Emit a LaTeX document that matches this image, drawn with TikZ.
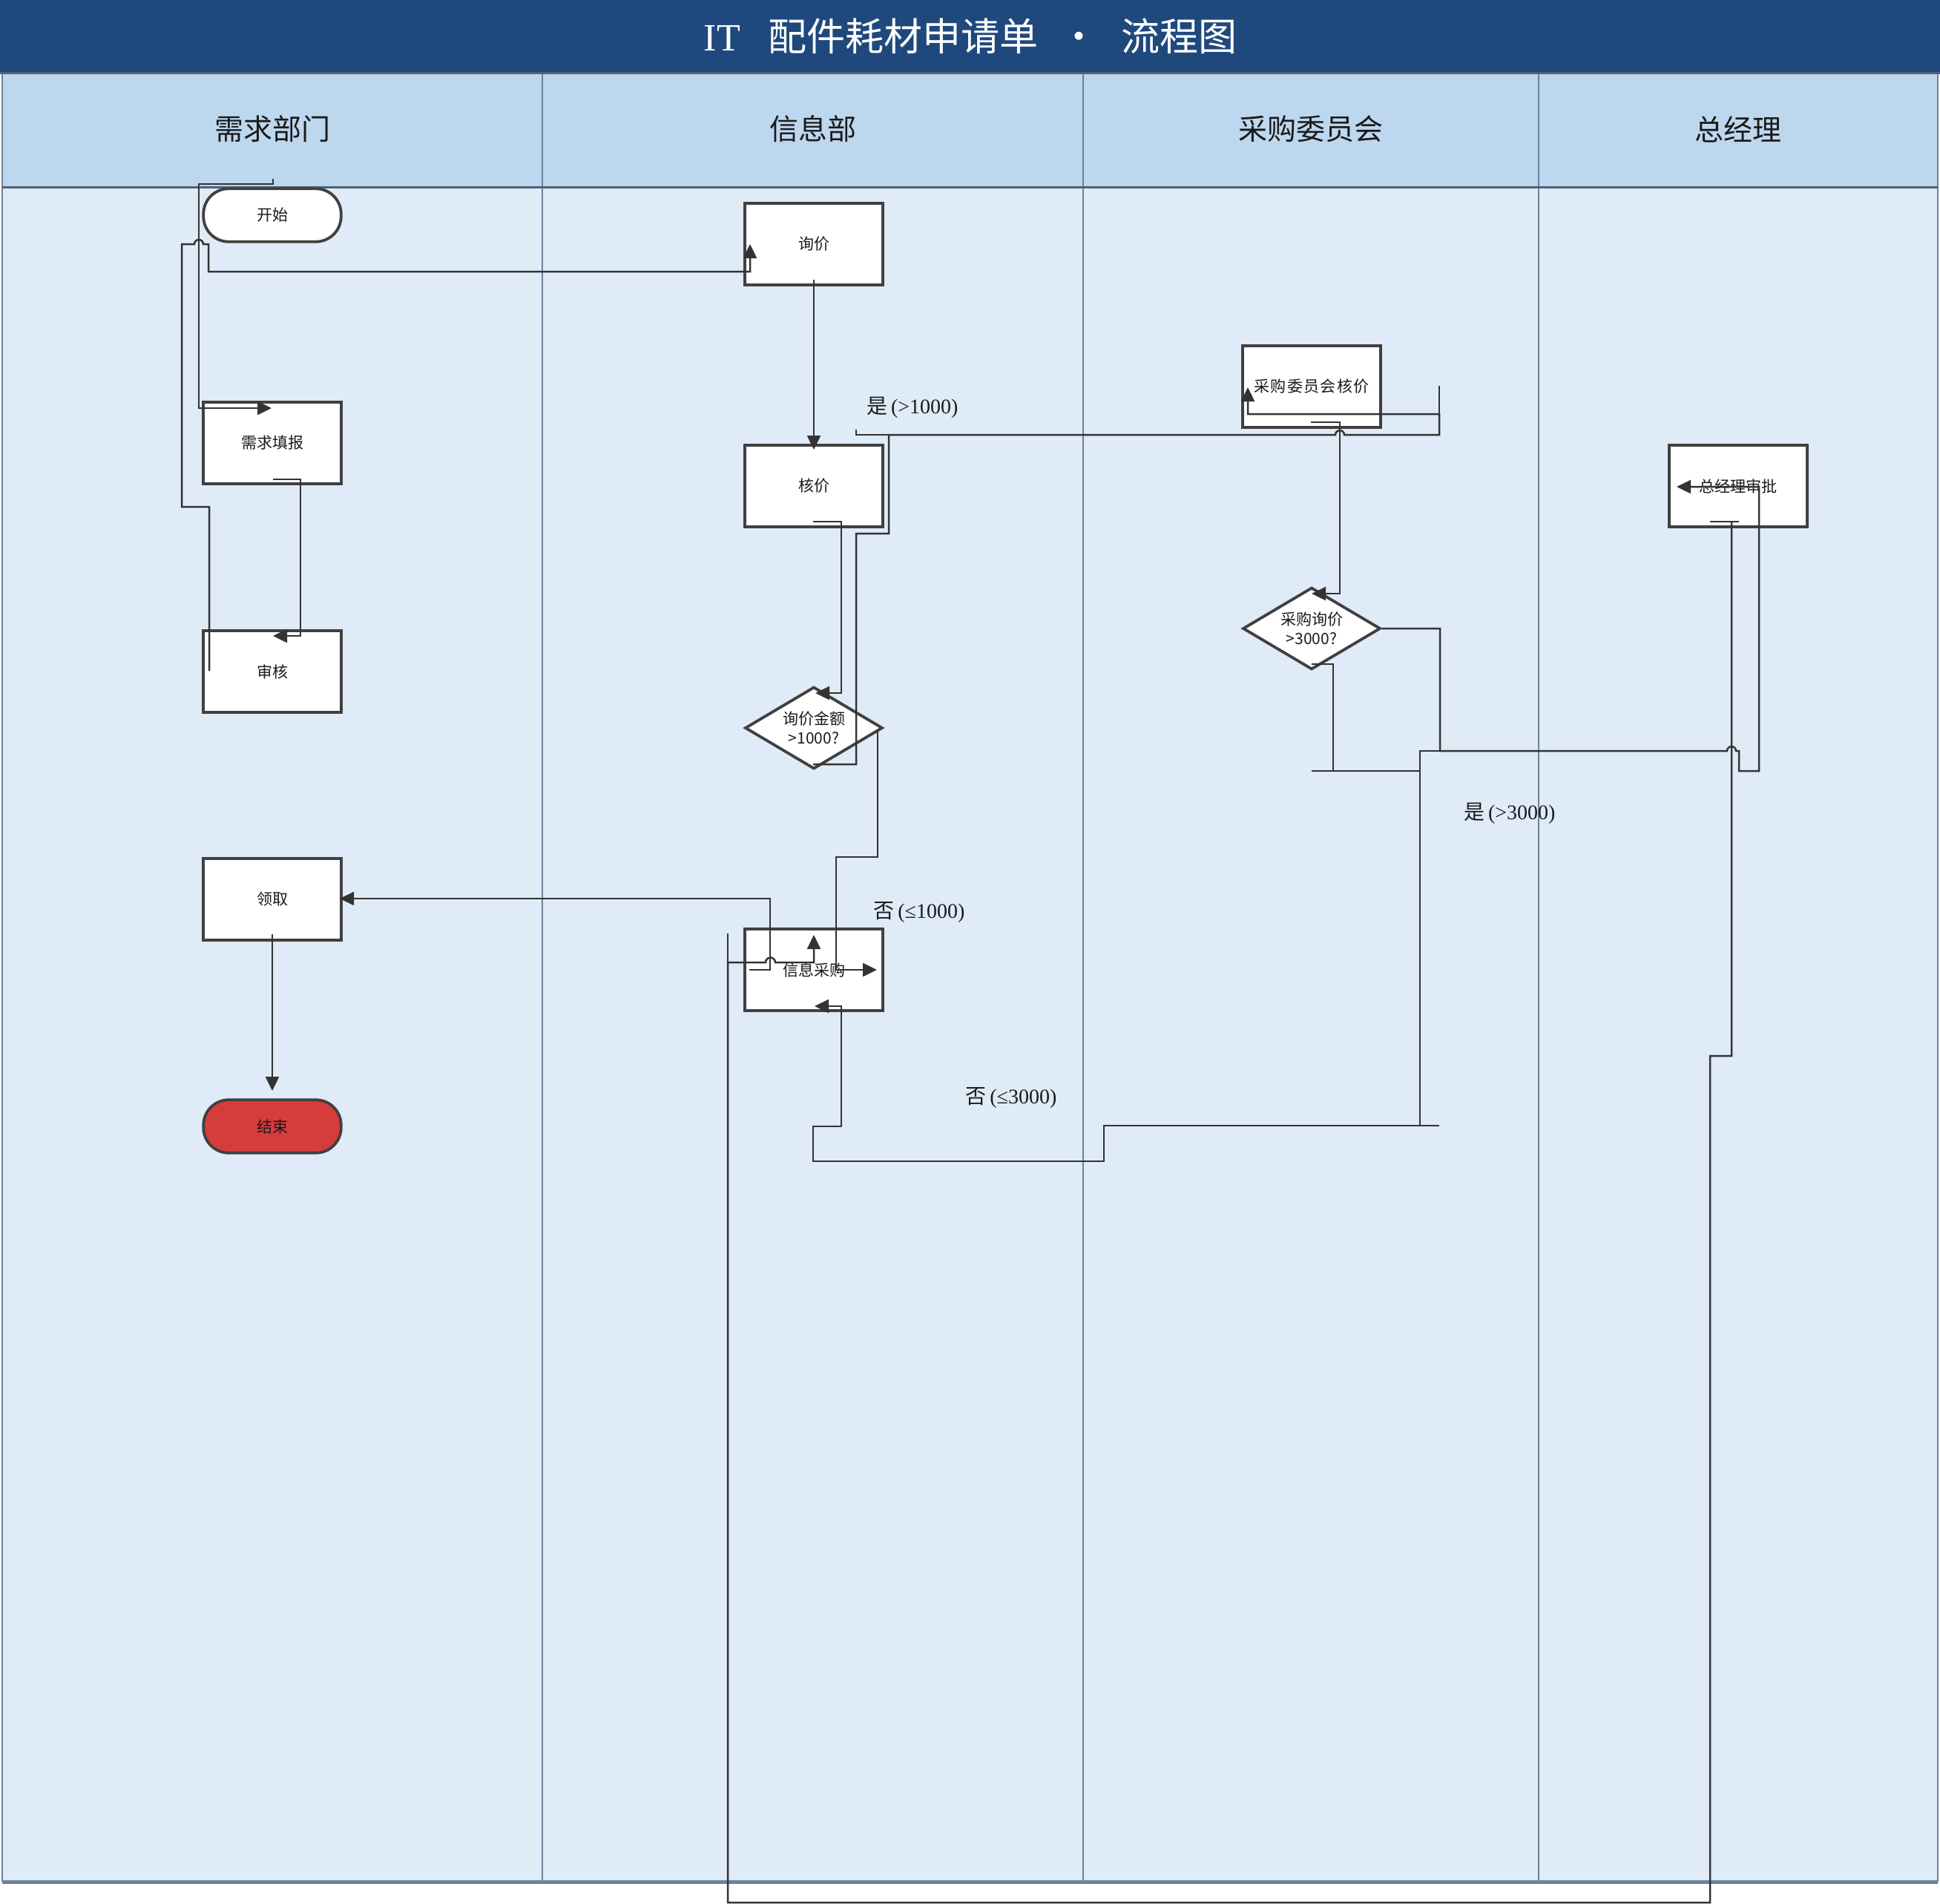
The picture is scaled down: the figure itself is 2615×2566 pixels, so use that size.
\documentclass[tikz,border=0pt]{standalone}
\usepackage{fontspec}
\setmainfont{Noto Sans CJK SC}
\newfontfamily\lib{Liberation Serif}
\usetikzlibrary{shapes.geometric,arrows.meta,calc}
\definecolor{titlebg}{HTML}{1F497D}
\definecolor{headbg}{HTML}{BDD7EE}
\definecolor{bodybg}{HTML}{DFEBF7}
\definecolor{laneline}{HTML}{6C819B}
\definecolor{headline}{HTML}{4E6279}
\definecolor{nodeborder}{HTML}{404040}
\definecolor{conncol}{HTML}{333333}
\definecolor{endred}{HTML}{D63C3C}
\definecolor{txt}{HTML}{1A1A1A}
\begin{document}
\begin{tikzpicture}[x=0.5pt,y=-0.5pt,
  box/.style={draw=nodeborder, line width=1.9pt, fill=white, minimum width=92.75pt, minimum height=55.25pt, inner sep=0pt, text=txt, font=\fontsize{10.5pt}{13pt}\selectfont},
  term/.style={box, rounded corners=17pt, minimum height=35.75pt},
  dia/.style={draw=nodeborder, line width=1.9pt, fill=white, diamond, minimum width=92.75pt, minimum height=55.25pt, inner sep=0pt},
  dtext/.style={align=center, inner sep=0pt, text=txt, font=\fontsize{10.5pt}{13pt}\selectfont},
  conn/.style={draw=conncol, line width=1.25pt},
  arr/.style={conn, -{Triangle[length=9.5pt,width=9pt]}},
  elabel/.style={inner sep=0pt, text=txt, font=\fontsize{14pt}{16pt}\selectfont},
  lanehead/.style={inner sep=0pt, text=txt, font=\fontsize{19.5pt}{22pt}\selectfont},
]
\useasboundingbox (0,0) rectangle (2615,2566);
\fill[white] (0,0) rectangle (2615,2566);
% title bar
\fill[titlebg] (0,0) rectangle (2615,98);
\node[inner sep=0pt, text=white, font=\fontsize{26pt}{30pt}\selectfont] (title) at (1308,49)
  {{\lib IT}\hspace{18.5pt}配件耗材申请单\makebox[56pt]{•}流程图};
% lanes
\fill[headbg] (3,98) rectangle (2612,252);
\fill[bodybg] (3,252) rectangle (2612,2536);
\foreach \xx in {731,1460,2074} {\draw[laneline, line width=1pt] (\xx,98) -- (\xx,2536);}
\draw[laneline, line width=1pt] (3,98) -- (3,2536);
\draw[laneline, line width=1pt] (2612,98) -- (2612,2536);
\draw[headline, line width=1.5pt] (0,98) -- (2615,98);
\draw[headline, line width=1.5pt] (3,252) -- (2612,252);
\draw[laneline, line width=2.5pt] (3,2536) -- (2612,2536);
\node[lanehead] (h1) at (367,174) {需求部门};
\node[lanehead] (h2) at (1096,174) {信息部};
\node[lanehead] (h3) at (1767,174) {采购委员会};
\node[lanehead] (h4) at (2343,174) {总经理};
% nodes
\node[term] (start) at (367,290) {开始};
\node[box] (fill) at (367,597) {需求填报};
\node[box] (audit) at (367,905) {审核};
\node[box] (collect) at (367,1212) {领取};
\node[term, fill=endred] (end) at (367,1518) {结束};
\node[box] (inquire) at (1097,329) {询价};
\node[box] (check) at (1097,655) {核价};
\node[dia] (d1) at (1097,981) {};
\node[dtext] (d1t) at (1097,981) {询价金额\\>1000?};
\node[box] (buy) at (1097,1307) {信息采购};
\node[box] (committee) at (1768,521) {\addfontfeatures{LetterSpace=7}采购委员会核价};
\node[dia] (d2) at (1768,847) {};
\node[dtext] (d2t) at (1768,847) {采购询价\\>3000?};
\node[box] (gm) at (2343,655) {总经理审批};
% connectors
% 开始 -> 需求填报
\draw[arr] ($(start.center)+(1,-49)$) -- (368,248) -- (268,248) -- (268,550) -- ($(fill.center)+(-1,-47)$);
% 需求填报 -> 审核
\draw[arr] ($(fill.center)+(1,49)$) -- (405,646) -- (405,857) -- ($(audit.center)+(1,-48)$);
% 审核 -> 询价
\draw[arr] ($(audit.center)+(-85,-1)$) -- (282,683) -- (245,683) -- (245,329) -- (262,329) arc (180:360:6) -- (281,329) -- (281,366) -- (1011,366) -- ($(inquire.center)+(-86,0)$);
% 询价 -> 核价
\draw[arr] ($(inquire.center)+(0,48)$) -- ($(check.center)+(0,-49)$);
% 核价 -> 询价金额
\draw[arr] ($(check.center)+(-1,48)$) -- (1134,703) -- (1134,934) -- ($(d1.center)+(2,-47)$);
% 询价金额 -> 采购委员会核价 (是)
\draw[conn] (1154,579) -- (1154,586) -- (1198,586);
\draw[arr] ($(d1.center)+(-1,49)$) -- (1154,1030) -- (1154,719) -- (1198,719) -- (1198,586) -- (1800,586) arc (180:360:6) -- (1940,586) -- (1940,558) -- (1682,558) -- ($(committee.center)+(-86,1)$);
\draw[conn] (1940,558) -- (1940,520);
\node[elabel] (l1) at (1230,549) {是\,{\lib (>1000)}};
% 询价金额 -> 信息采购 (否)
\draw[arr] ($(d1.center)+(86,3)$) -- (1183,1155) -- (1127,1155) -- (1127,1307) -- ($(buy.center)+(85,0)$);
\node[elabel] (l2) at (1239,1230) {否\,{\lib (≤1000)}};
% 采购委员会核价 -> 采购询价
\draw[arr] ($(committee.center)+(-1,48)$) -- (1806,569) -- (1806,800) -- ($(d2.center)+(0,-47)$);
% 采购询价 -> 总经理审批 (是)
\draw[arr] (d2.east) -- (1941,847) -- (1941,1012) -- (2328,1012) arc (180:360:6) -- (2344,1012) -- (2344,1039) -- (2371,1039) -- (2371,656) -- ($(gm.center)+(-83,1)$);
\node[elabel] (l3) at (2035,1096) {是\,{\lib (>3000)}};
% 采购询价 -> 信息采购 (否)
\draw[conn] ($(d2.center)+(0,48)$) -- (1797,895) -- (1797,1039);
\draw[conn] (1768,1039) -- (1914,1039);
\draw[conn] (1941,1012) -- (1914,1012) -- (1914,1517);
\draw[arr] (1940,1517) -- (1488,1517) -- (1488,1565) -- (1096,1565) -- (1096,1518) -- (1134,1518) -- (1134,1356) -- ($(buy.center)+(1,49)$);
\node[elabel] (l4) at (1363,1479) {否\,{\lib (≤3000)}};
% 总经理审批 -> 信息采购
\draw[conn] ($(gm.center)+(-38,48)$) -- (2344,703);
\draw[arr] (2334,703) -- (2334,1423) -- (2305,1423) -- (2305,2564) -- (981,2564) -- (981,1297) -- (1032,1297) arc (180:360:6.5) -- (1097,1297) -- ($(buy.center)+(0,-47)$);
\draw[conn] (981,1297) -- (981,1258);
% 信息采购 -> 领取
\draw[arr] ($(buy.center)+(-87,0)$) -- (1038,1307) -- (1038,1211) -- ($(collect.center)+(91,-1)$);
% 领取 -> 结束
\draw[arr] ($(collect.center)+(0,47)$) -- ($(end.center)+(0,-48)$);
\end{tikzpicture}
\end{document}
